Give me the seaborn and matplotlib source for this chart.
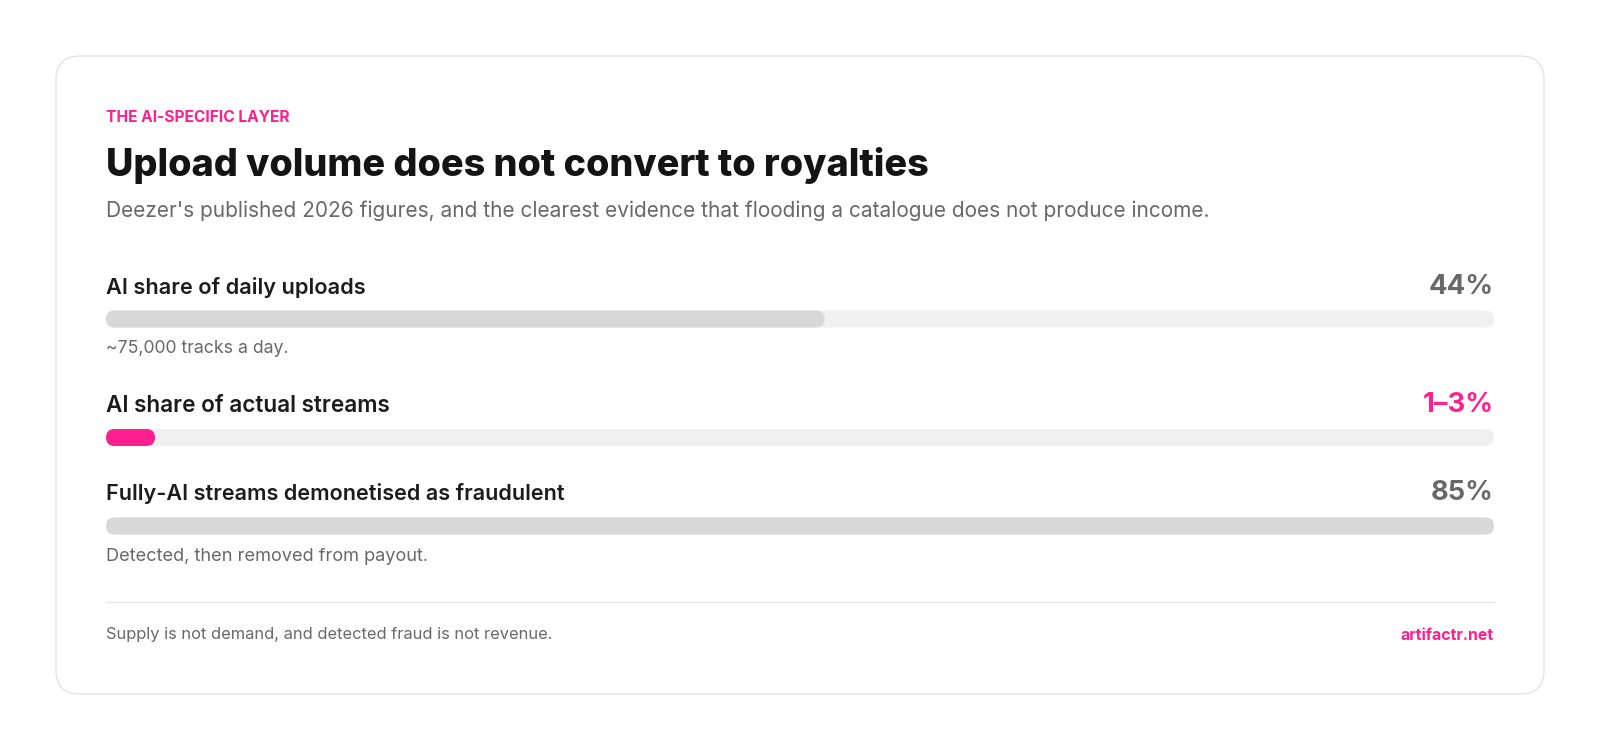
import matplotlib
matplotlib.use("Agg")
import matplotlib.pyplot as plt
from matplotlib.patches import FancyBboxPatch
from matplotlib.transforms import IdentityTransform
import seaborn as sns

# ---------------- data ----------------
EYEBROW = "THE AI-SPECIFIC LAYER"
TITLE = "Upload volume does not convert to royalties"
SUBTITLE = "Deezer's published 2026 figures, and the clearest evidence that flooding a catalogue does not produce income."
LABELS = ["AI share of daily uploads", "AI share of actual streams", "Fully-AI streams demonetised as fraudulent"]
VALUES = [44, 3, 85]
VALUE_LABELS = ["44%", "1\u20133%", "85%"]
NOTES = ["~75,000 tracks a day.", "", "Detected, then removed from payout."]
HIGHLIGHT = [False, True, False]
FOOTER = "Supply is not demand, and detected fraud is not revenue."
SOURCE = "artifactr.net"

# ---------------- style ----------------
PINK = "#ff1f8e"
DARK = "#141414"
LABEL_C = "#1c1c1c"
GREY_T = "#686868"
TRACK = "#f0f0f0"
FILL = "#d8d8d8"
BORDER = "#e3e3e3"

sns.set_theme(style="white")
plt.rcParams["font.family"] = ["Inter", "DejaVu Sans"]

W, H = 1600, 749
fig = plt.figure(figsize=(W / 100, H / 100), dpi=100)
fig.patch.set_facecolor("white")

bg = fig.add_axes([0, 0, 1, 1])
bg.set_xlim(0, W)
bg.set_ylim(H, 0)
bg.axis("off")

# card
card = FancyBboxPatch((56, 56), 1488, 638, boxstyle="round,pad=0,rounding_size=24",
                      fc="white", ec=BORDER, lw=1.0, zorder=0)
bg.add_patch(card)

renderer = fig.canvas.get_renderer()

def put(x, y, s, size, target_w=None, **kw):
    t = bg.text(x, y, s, fontsize=size, va="baseline", **kw)
    if target_w:
        w = t.get_window_extent(renderer).width
        t.set_fontsize(size * target_w / w)
    return t

L, R = 106, 1494

put(L, 121.5, EYEBROW, 11.2, color=PINK, fontweight="bold")
put(L, 176.5, TITLE, 25, target_w=825, color=DARK, fontweight="heavy")
put(L, 217, SUBTITLE, 13, target_w=1101, color=GREY_T)

label_w = [259, 284, 457]
value_w = [65, 71, 63]
note_w = [183, 322, 0]
note_w = [183, 0, 322]
bar_c = [319, 437.5, 526]
label_base = [294, 412, 500.5]
note_base = [353, None, 561]
bar_h = 17

vmax = max(VALUES)

for i in range(len(LABELS)):
    put(L, label_base[i], LABELS[i], 14, target_w=label_w[i], color=LABEL_C, fontweight="semibold")
    put(R, label_base[i], VALUE_LABELS[i], 19, target_w=value_w[i],
        color=PINK if HIGHLIGHT[i] else GREY_T, fontweight="bold", ha="right")
    if NOTES[i]:
        put(L, note_base[i], NOTES[i], 11.5, target_w=note_w[i], color=GREY_T)

    top = bar_c[i] - bar_h / 2
    ax = fig.add_axes([L / W, (H - top - bar_h) / H, (R - L) / W, bar_h / H])
    sns.barplot(x=[vmax], y=[LABELS[i]], orient="h", color=TRACK, width=1.0,
                saturation=1, ax=ax)
    sns.barplot(x=[VALUES[i]], y=[LABELS[i]], orient="h",
                color=PINK if HIGHLIGHT[i] else FILL, width=1.0, saturation=1, ax=ax)
    ax.set_xlim(0, vmax)
    ax.set_ylim(0.5, -0.5)
    ax.axis("off")
    ax.patch.set_alpha(0)

    fig.canvas.draw()
    rects = list(ax.patches)
    for p in rects:
        bb = p.get_window_extent(renderer)
        fc = p.get_facecolor()
        p.remove()
        rp = FancyBboxPatch((bb.x0, bb.y0), bb.width, bb.height,
                            boxstyle=f"round,pad=0,rounding_size={bb.height / 2}",
                            transform=IdentityTransform(), fc=fc, ec="none", clip_on=False)
        ax.add_patch(rp)

# divider and footer
bg.plot([L, R], [602, 602], color="#e6e6e6", lw=1.0)
put(L, 639.5, FOOTER, 11, target_w=442, color=GREY_T)
put(R, 639.5, SOURCE, 11, target_w=94, color=PINK, fontweight="bold", ha="right")

fig.savefig("out.png", dpi=100, facecolor="white")
